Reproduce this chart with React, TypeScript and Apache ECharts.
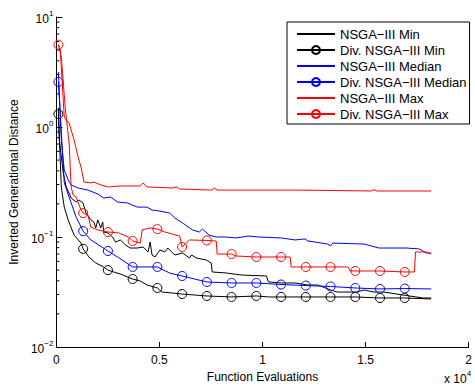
import React, { useEffect, useRef } from "react";
import * as echarts from "echarts";

const FONT = '"Liberation Sans", Arial, Helvetica, sans-serif';

const seriesNames = [
  "NSGA−III Min",
  "Div. NSGA−III Min",
  "NSGA−III Median",
  "Div. NSGA−III Median",
  "NSGA−III Max",
  "Div. NSGA−III Max",
];

const xTicks = [0, 5000, 10000, 15000, 20000];
const yTicks = [0.01, 0.1, 1, 10];
const minorTickValues = [
  0.02, 0.03, 0.04, 0.05, 0.06, 0.07, 0.08, 0.09,
  0.2, 0.3, 0.4, 0.5, 0.6, 0.7, 0.8, 0.9,
  2, 3, 4, 5, 6, 7, 8, 9,
];

// evaluations at which the Div. series show a circle marker
const divMarkerEvals = [100, 1300, 2500, 3700, 4900, 6100, 7300, 8500, 9700, 10900, 12100, 13300, 14500, 15700, 16900];

const nsgaMin: number[][] = [
  [100, 1.49], [144, 0.762], [335, 0.382], [478, 0.285], [718, 0.226], [957, 0.208], [1100, 0.217],
  [1292, 0.204], [1435, 0.165], [1579, 0.152], [1675, 0.143], [1818, 0.137], [1914, 0.121], [2010, 0.143],
  [2153, 0.121], [2249, 0.137], [2297, 0.111], [2488, 0.109], [2727, 0.1], [2871, 0.09], [3110, 0.094],
  [3349, 0.0846], [3589, 0.0794], [3924, 0.0794], [4211, 0.0811], [4450, 0.0731], [4546, 0.09], [4641, 0.0686],
  [4785, 0.0658], [5024, 0.0762], [5263, 0.0731], [5407, 0.0794], [5742, 0.0686], [6125, 0.0715], [6460, 0.0644],
  [6555, 0.0686], [6794, 0.0644], [7273, 0.0618], [7512, 0.058], [7560, 0.0481], [8230, 0.0471], [8996, 0.0451],
  [10192, 0.0442], [10288, 0.039], [10910, 0.0382], [11580, 0.0382], [12202, 0.0366], [12680, 0.0366],
  [13302, 0.033], [13637, 0.0316], [14594, 0.0316], [14929, 0.033], [15408, 0.0316], [15886, 0.0316],
  [16508, 0.0303], [17130, 0.0291], [17800, 0.0279], [18183, 0.0279],
];

const divMin: number[][] = [
  [100, 1.31], [239, 0.285], [383, 0.187], [574, 0.143], [861, 0.104], [1196, 0.088], [1300, 0.078],
  [1579, 0.0658], [1914, 0.058], [2297, 0.0534], [2500, 0.05], [3110, 0.046], [3700, 0.0415], [4067, 0.0398],
  [4402, 0.0366], [4900, 0.0344], [5120, 0.0316], [5600, 0.031], [6100, 0.0303], [6700, 0.0297], [7300, 0.0291],
  [8500, 0.0285], [9700, 0.0291], [10300, 0.0285], [10900, 0.0285], [12100, 0.0285], [13300, 0.0285],
  [14500, 0.0285], [15700, 0.0279], [16900, 0.0279], [18183, 0.0273],
];

const nsgaMedian: number[][] = [
  [100, 3.16], [239, 0.762], [383, 0.407], [574, 0.33], [718, 0.297], [1053, 0.279], [1531, 0.267],
  [2010, 0.246], [2297, 0.226], [2632, 0.231], [2967, 0.208], [3445, 0.204], [3924, 0.187], [4402, 0.187],
  [4641, 0.176], [5024, 0.172], [5502, 0.165], [5742, 0.149], [6125, 0.134], [6603, 0.116], [6938, 0.111],
  [7082, 0.118], [7417, 0.104], [7752, 0.1], [8230, 0.1], [8709, 0.098], [9331, 0.102], [9809, 0.1],
  [10910, 0.098], [11580, 0.094], [12058, 0.096], [12202, 0.092], [13159, 0.0863], [13302, 0.0828],
  [13398, 0.088], [14929, 0.0863], [15647, 0.0794], [16987, 0.0794], [17609, 0.0778], [17944, 0.0715],
  [18183, 0.0715],
];

const divMedian: number[][] = [
  [100, 2.57], [383, 0.31], [718, 0.204], [957, 0.152], [1300, 0.113], [1675, 0.094], [2057, 0.0846],
  [2500, 0.0746], [3014, 0.065], [3700, 0.0534], [4300, 0.0534], [4900, 0.0534], [5500, 0.047], [6100, 0.0442],
  [7300, 0.039], [8500, 0.0382], [9700, 0.0382], [10900, 0.037], [12100, 0.0362], [13300, 0.0355],
  [14500, 0.0344], [15700, 0.0337], [16900, 0.034], [18183, 0.0337],
];

const nsgaMax: number[][] = [
  [100, 5.56], [191, 5.01], [383, 1.23], [478, 1.158], [622, 1.087], [718, 0.939], [861, 0.762],
  [1053, 0.534], [1196, 0.433], [1340, 0.316], [1675, 0.31], [1818, 0.316], [2153, 0.297], [2536, 0.285],
  [3110, 0.291], [4067, 0.291], [4211, 0.31], [4402, 0.285], [5646, 0.279], [5837, 0.285], [5981, 0.273],
  [7560, 0.267], [7656, 0.279], [7800, 0.267], [11723, 0.267], [15300, 0.262], [15408, 0.27], [15550, 0.262],
  [18183, 0.262],
];

const divMax: number[][] = [
  [100, 5.6], [239, 4.33], [430, 1.5], [622, 0.7], [718, 0.285], [813, 0.241], [957, 0.231], [1196, 0.176],
  [1300, 0.165], [1531, 0.158], [1675, 0.123], [2010, 0.116], [2500, 0.111], [3014, 0.109], [3493, 0.1],
  [3700, 0.092], [4067, 0.088], [4163, 0.116], [4546, 0.121], [4900, 0.118], [5263, 0.111], [5646, 0.106],
  [5981, 0.102], [6050, 0.09], [6100, 0.0811], [6460, 0.094], [7300, 0.093], [7752, 0.092], [7800, 0.07],
  [8500, 0.07], [8709, 0.0672], [9700, 0.0658], [10900, 0.0658], [11340, 0.0658], [11388, 0.0534],
  [12100, 0.0534], [13300, 0.0534], [14140, 0.0534], [14260, 0.0491], [14500, 0.0491], [15700, 0.0491],
  [16900, 0.0481], [17370, 0.0481], [17420, 0.0731], [17944, 0.0731], [18183, 0.07],
];

const colors = ["#000000", "#000000", "#0000ff", "#0000ff", "#ff0000", "#ff0000"];
const seriesData = [nsgaMin, divMin, nsgaMedian, divMedian, nsgaMax, divMax];

function expLabel(v: number): string {
  const e = Math.round(Math.log10(v));
  return e < 0 ? "−" + Math.abs(e) : String(e);
}

export default function App() {
  const ref = useRef<HTMLDivElement>(null);
  useEffect(() => {
    if (!ref.current) return;
    const chart = echarts.init(ref.current, null, { renderer: "svg" });
    const series: any[] = seriesData.map((d, i) => {
      const isDiv = i % 2 === 1;
      return {
        name: seriesNames[i],
        type: "line",
        color: colors[i],
        symbol: isDiv ? "circle" : "none",
        symbolSize: 9,
        showAllSymbol: true,
        lineStyle: { color: colors[i], width: 1 },
        itemStyle: isDiv
          ? { color: "rgba(0,0,0,0)", borderColor: colors[i], borderWidth: 1 }
          : { color: "rgba(0,0,0,0)", borderColor: "rgba(0,0,0,0)", borderWidth: 0 },
        emphasis: { disabled: true },
        data: d.map(([x, y]) =>
          isDiv && divMarkerEvals.includes(x) ? [x, y] : { value: [x, y], symbol: "none" }
        ),
        z: 2 + i,
      };
    });
    series.push({
      type: "custom",
      name: "minorTicks",
      silent: true,
      clip: false,
      data: minorTickValues.map((v) => [0, v]),
      renderItem: (_p: any, api: any) => {
        const p = api.coord([0, api.value(1)]);
        return {
          type: "line",
          shape: { x1: p[0], y1: p[1], x2: p[0] + 3, y2: p[1] },
          style: { stroke: "#000", lineWidth: 1 },
        };
      },
      z: 1,
    });

    chart.setOption({
      animation: false,
      backgroundColor: "#ffffff",
      textStyle: { fontFamily: FONT },
      grid: { left: 55, right: 2, top: 17, bottom: 42, containLabel: false },
      xAxis: {
        type: "value",
        min: xTicks[0],
        max: xTicks[xTicks.length - 1],
        interval: xTicks[1] - xTicks[0],
        axisLine: { lineStyle: { color: "#000", width: 1 } },
        axisTick: { inside: true, length: 5, lineStyle: { color: "#000" } },
        axisLabel: {
          formatter: (v: number) => String(v / 10000),
          color: "#000",
          fontSize: 12,
          margin: 7,
          fontFamily: FONT,
        },
        splitLine: { show: false },
        name: "Function Evaluations",
        nameLocation: "middle",
        nameGap: 16,
        nameTextStyle: { color: "#000", fontSize: 12, fontFamily: FONT },
      },
      yAxis: {
        type: "log",
        logBase: 10,
        min: yTicks[0],
        max: yTicks[yTicks.length - 1],
        axisLine: { show: true, lineStyle: { color: "#000", width: 1 } },
        axisTick: { show: true, inside: true, length: 6, lineStyle: { color: "#000" } },
        axisLabel: {
          color: "#000",
          margin: 3,
          formatter: (v: number) => `{b|10}{s|${expLabel(v)}}`,
          rich: {
            b: { fontSize: 12, lineHeight: 16, verticalAlign: "bottom", fontFamily: FONT, color: "#000" },
            s: { fontSize: 8, lineHeight: 8, verticalAlign: "top", fontFamily: FONT, color: "#000" },
          },
        },
        splitLine: { show: false },
        name: "Inverted Generational Distance",
        nameLocation: "middle",
        nameGap: 31,
        nameRotate: 90,
        nameTextStyle: { color: "#000", fontSize: 12, fontFamily: FONT },
      },
      legend: {
        data: seriesNames,
        orient: "vertical",
        left: 287,
        top: 22,
        itemWidth: 38,
        itemHeight: 10,
        itemGap: 2,
        padding: [5, 3, 3, 9],
        borderColor: "#000",
        borderWidth: 1,
        backgroundColor: "#fff",
        selectedMode: false,
        textStyle: { color: "#000", fontSize: 13, lineHeight: 14, fontFamily: FONT },
      },
      graphic: [
        {
          type: "text",
          x: 444,
          y: 369,
          style: {
            text: "{b|x 10}{s|4}",
            rich: {
              b: { fontSize: 12, lineHeight: 16, verticalAlign: "bottom", fontFamily: FONT, fill: "#000" },
              s: { fontSize: 8, lineHeight: 8, verticalAlign: "top", fontFamily: FONT, fill: "#000" },
            },
            fill: "#000",
          },
        },
      ],
      series,
    });
    return () => chart.dispose();
  }, []);
  return <div ref={ref} style={{ width: 475, height: 389, position: "absolute", left: 0, top: 0 }} />;
}
